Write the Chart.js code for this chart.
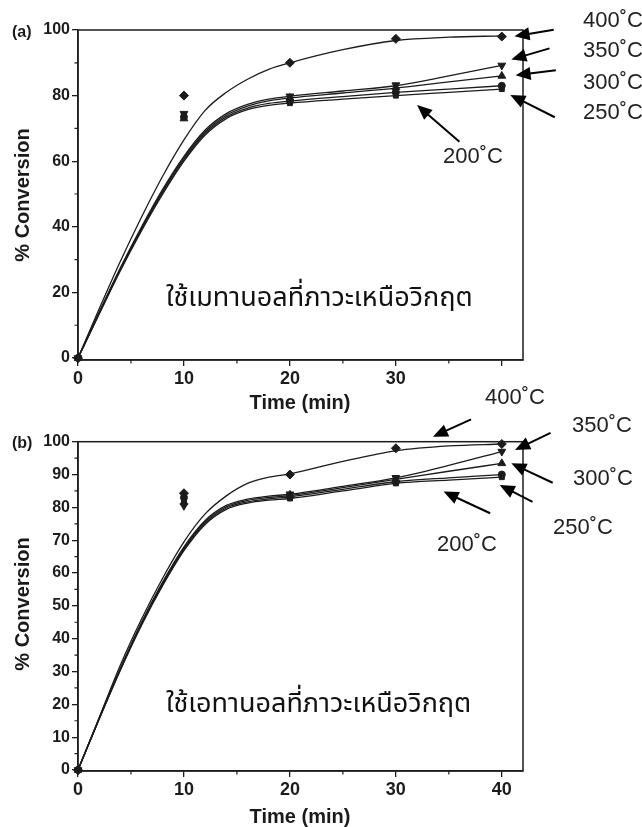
<!DOCTYPE html>
<html><head><meta charset="utf-8">
<script src="https://cdn.jsdelivr.net/npm/chart.js@4.4.1/dist/chart.umd.min.js"></script>
<style>
html,body{margin:0;padding:0;background:#fff;}
#wrap{position:relative;width:642px;height:827px;overflow:hidden;background:#fff;}
canvas{position:absolute;left:0;}
.lbl{position:absolute;font-family:"Liberation Sans",Arial,sans-serif;font-size:22px;line-height:22px;color:#222;white-space:nowrap;}
.thai{position:absolute;font-family:"Noto Sans Thai","Loma","Garuda","Tlwg Typo","Noto Sans","DejaVu Sans",sans-serif;font-size:27px;line-height:30px;color:#111;white-space:nowrap;}
.ax{position:absolute;font-family:"Liberation Sans",Arial,sans-serif;font-weight:bold;font-size:20px;line-height:20px;color:#1a1a1a;white-space:nowrap;transform:translate(-50%,-50%);}
.axy{transform:translate(-50%,-50%) rotate(-90deg);}
.pl{position:absolute;font-family:"Liberation Sans",Arial,sans-serif;font-weight:bold;font-size:16px;line-height:16px;color:#1a1a1a;}
</style></head><body>
<div id="wrap">
<canvas id="ca" width="642" height="400" style="top:0"></canvas>
<canvas id="cb" width="642" height="427" style="top:400px"></canvas>
<div class="pl" style="left:12px;top:24px">(a)</div>
<div class="pl" style="left:12px;top:435px">(b)</div>
<div class="ax" style="left:300px;top:402px">Time (min)</div>
<div class="ax" style="left:300px;top:816px">Time (min)</div>
<div class="ax axy" style="left:22px;top:195px">% Conversion</div>
<div class="ax axy" style="left:22px;top:604px">% Conversion</div>
<div class="thai" style="left:166px;top:283px">ใช้เมทานอลที่ภาวะเหนือวิกฤต</div>
<div class="thai" style="left:166px;top:689px">ใช้เอทานอลที่ภาวะเหนือวิกฤต</div>
<div class="lbl" style="left:583px;top:9px">400˚C</div>
<div class="lbl" style="left:583px;top:39px">350˚C</div>
<div class="lbl" style="left:583px;top:71px">300˚C</div>
<div class="lbl" style="left:583px;top:101px">250˚C</div>
<div class="lbl" style="left:443px;top:145px">200˚C</div>
<div class="lbl" style="left:485px;top:386px">400˚C</div>
<div class="lbl" style="left:572px;top:414px">350˚C</div>
<div class="lbl" style="left:573px;top:467px">300˚C</div>
<div class="lbl" style="left:553px;top:516px">250˚C</div>
<div class="lbl" style="left:437px;top:533px">200˚C</div>
</div>
<script>
// ---------------- data ----------------
const times = [0, 10, 20, 30, 40];
const curveT = [0, 2, 4, 6, 8, 10, 12, 14, 16, 18, 20, 25, 30, 35, 40];
const temps = ['200°C', '250°C', '300°C', '350°C', '400°C'];

// (a) methanol - measured points
const ptsA200 = [0, 74, 77.7, 80, 82];
const ptsA250 = [0, 73.5, 78.3, 81, 83];
const ptsA300 = [0, 73, 79.3, 82.5, 86];
const ptsA350 = [0, 74.5, 79.8, 83.2, 89.2];
const ptsA400 = [0, 80, 90, 97.3, 98];
// (a) fitted curves
const fitA200 = [0, 13.4, 26.6, 38.8, 50, 60, 68, 73, 75.7, 77, 77.7, 78.9, 80, 81, 82];
const fitA250 = [0, 13.6, 26.9, 39.2, 50.5, 60.5, 68.5, 73.5, 76.2, 77.6, 78.3, 79.7, 81, 82, 83];
const fitA300 = [0, 13.8, 27.2, 39.6, 51, 61, 69, 74, 76.8, 78.4, 79.3, 80.8, 82.3, 84.2, 86];
const fitA350 = [0, 14, 27.5, 40, 51.5, 61.5, 69.5, 74.5, 77.3, 78.9, 79.8, 81.4, 83, 86, 89.2];
const fitA400 = [0, 15, 29.5, 43, 55.5, 66.5, 75.5, 81, 85, 88, 90, 94, 96.8, 97.8, 98.2];

// (b) ethanol - measured points
const ptsB200 = [0, 82, 82.7, 87.3, 89.2];
const ptsB250 = [0, 83, 83.2, 87.8, 90];
const ptsB300 = [0, 81.5, 83.8, 88.5, 93.4];
const ptsB350 = [0, 80.5, 84, 89, 97];
const ptsB400 = [0, 84.3, 90, 98, 99.3];
// (b) fitted curves
const fitB200 = [0, 15.5, 30.4, 44.1, 56.2, 66.8, 74.8, 79.4, 81.3, 82.2, 82.7, 85, 87.3, 88.3, 89.2];
const fitB250 = [0, 15.6, 30.6, 44.4, 56.6, 67.2, 75.2, 79.8, 81.7, 82.6, 83.2, 85.5, 87.8, 89, 90];
const fitB300 = [0, 15.7, 30.8, 44.7, 57, 67.6, 75.6, 80.2, 82.1, 83, 83.6, 86, 88.5, 91, 93.4];
const fitB350 = [0, 15.8, 31, 45, 57.3, 68, 76, 80.6, 82.5, 83.4, 84, 86.4, 89, 92.8, 97];
const fitB400 = [0, 16, 32, 46, 58.5, 69.5, 78, 83.5, 87.3, 89.2, 90.2, 94, 97.2, 98.7, 99.3];

// ticks
const xTicks = [0, 10, 20, 30, 40];
const xLabelsA = ['0', '10', '20', '30', ''];
const xLabelsB = ['0', '10', '20', '30', '40'];
const xMinor = [5, 15, 25, 35];
const yTicksA = [0, 20, 40, 60, 80, 100];
const yMinorA = [10, 30, 50, 70, 90];
const yTicksB = [0, 10, 20, 30, 40, 50, 60, 70, 80, 90, 100];
const yMinorB = [5, 15, 25, 35, 45, 55, 65, 75, 85, 95];

// annotation arrows in data units: [tailX, tailY, headX, headY]
const arrowsA = [[44.9, 100.1, 41.2, 98.1], [44.5, 94.4, 40.9, 91], [45.1, 87.7, 41.3, 86.2], [45.0, 73.4, 40.8, 80.2], [36.0, 65.9, 32.0, 77.1]];
const arrowsB = [[37.1, 106.8, 33.5, 101.5], [44.6, 102.7, 41.25, 97.5], [44.8, 87.5, 40.9, 93.4], [42.9, 81.7, 39.8, 86.8], [38.9, 78.2, 34.5, 84.8]];

// ---------------- chart ----------------
Chart.defaults.font.family = "'Liberation Sans', Arial, sans-serif";
const INK = '#1c1c1c';
const styles = [
  {ps: 'rect', r: 3.5, rot: 0},
  {ps: 'circle', r: 3.5, rot: 0},
  {ps: 'triangle', r: 4.5, rot: 0},
  {ps: 'triangle', r: 4.5, rot: 180},
  {ps: 'rectRot', r: 4.5, rot: 0}
];

function xy(xs, ys) { return xs.map((x, i) => ({x: x, y: ys[i]})); }

function buildDatasets(pts, fits) {
  const ds = [];
  fits.forEach((f, i) => ds.push({
    label: temps[i] + ' fit', data: xy(curveT, f), showLine: true, pointRadius: 0,
    borderColor: INK, borderWidth: 1.3, cubicInterpolationMode: 'monotone', fill: false, order: 2
  }));
  pts.forEach((p, i) => ds.push({
    label: temps[i], data: xy(times, p), showLine: false, pointStyle: styles[i].ps,
    pointRadius: styles[i].r, pointRotation: styles[i].rot,
    backgroundColor: INK, borderColor: INK, borderWidth: 1, clip: false, order: 1
  }));
  return ds;
}

function drawArrow(ctx, x1, y1, x2, y2) {
  const ang = Math.atan2(y2 - y1, x2 - x1);
  const L = 15, W = 6.5;
  const bx = x2 - L * Math.cos(ang), by = y2 - L * Math.sin(ang);
  ctx.beginPath(); ctx.moveTo(x1, y1); ctx.lineTo(bx + Math.cos(ang), by + Math.sin(ang)); ctx.stroke();
  ctx.beginPath(); ctx.moveTo(x2, y2);
  ctx.lineTo(bx + W * Math.sin(ang), by - W * Math.cos(ang));
  ctx.lineTo(bx - W * Math.sin(ang), by + W * Math.cos(ang));
  ctx.closePath(); ctx.fill();
}

function framePlugin(minorX, minorY, arrows) {
  return {
    id: 'frame',
    afterDraw(chart) {
      const ctx = chart.ctx, a = chart.chartArea, x = chart.scales.x, y = chart.scales.y;
      ctx.save();
      ctx.strokeStyle = INK; ctx.fillStyle = '#000';
      ctx.lineWidth = 1.5;
      ctx.strokeRect(a.left, a.top, a.right - a.left, a.bottom - a.top);
      ctx.lineWidth = 1.2;
      ctx.beginPath();
      minorX.forEach(v => { const p = x.getPixelForValue(v); ctx.moveTo(p, a.bottom); ctx.lineTo(p, a.bottom + 3.5); });
      minorY.forEach(v => { const p = y.getPixelForValue(v); ctx.moveTo(a.left, p); ctx.lineTo(a.left - 3.5, p); });
      ctx.stroke();
      ctx.strokeStyle = '#000'; ctx.lineWidth = 2;
      arrows.forEach(ar => drawArrow(ctx, x.getPixelForValue(ar[0]), y.getPixelForValue(ar[1]), x.getPixelForValue(ar[2]), y.getPixelForValue(ar[3])));
      ctx.restore();
    }
  };
}

function makeChart(id, pts, fits, cfg) {
  return new Chart(document.getElementById(id), {
    type: 'scatter',
    data: {datasets: buildDatasets(pts, fits)},
    options: {
      responsive: false, animation: false, devicePixelRatio: 1,
      layout: {padding: {top: cfg.top, right: 119, left: 0, bottom: 0}},
      plugins: {legend: {display: false}, tooltip: {enabled: false}},
      scales: {
        x: {
          type: 'linear', min: 0, max: 42,
          afterBuildTicks: s => { s.ticks = xTicks.map(v => ({value: v})); },
          afterFit: s => { s.height = cfg.xh; },
          ticks: {autoSkip: false, maxRotation: 0, padding: 2, color: INK,
                  font: {size: 18, weight: 'bold'},
                  callback: (v) => cfg.xLabels[xTicks.indexOf(v)]},
          grid: {drawOnChartArea: false, tickLength: 6, color: INK, lineWidth: 1.3},
          border: {color: INK, width: 1.5}
        },
        y: {
          type: 'linear', min: cfg.ymin, max: 100,
          afterBuildTicks: s => { s.ticks = cfg.yTicks.map(v => ({value: v})); },
          afterFit: s => { s.width = 78; },
          ticks: {autoSkip: false, padding: 2, color: INK, font: {size: 16, weight: 'bold'},
                  callback: v => String(v)},
          grid: {drawOnChartArea: false, tickLength: 6, color: INK, lineWidth: 1.3},
          border: {color: INK, width: 1.5}
        }
      }
    },
    plugins: [framePlugin(xMinor, cfg.yMinor, cfg.arrows)]
  });
}

makeChart('ca', [ptsA200, ptsA250, ptsA300, ptsA350, ptsA400], [fitA200, fitA250, fitA300, fitA350, fitA400],
  {top: 30, xh: 40, ymin: -0.6, yTicks: yTicksA, yMinor: yMinorA, xLabels: xLabelsA, arrows: arrowsA});
makeChart('cb', [ptsB200, ptsB250, ptsB300, ptsB350, ptsB400], [fitB200, fitB250, fitB300, fitB350, fitB400],
  {top: 41.7, xh: 56, ymin: -0.3, yTicks: yTicksB, yMinor: yMinorB, xLabels: xLabelsB, arrows: arrowsB});
</script>
</body></html>
